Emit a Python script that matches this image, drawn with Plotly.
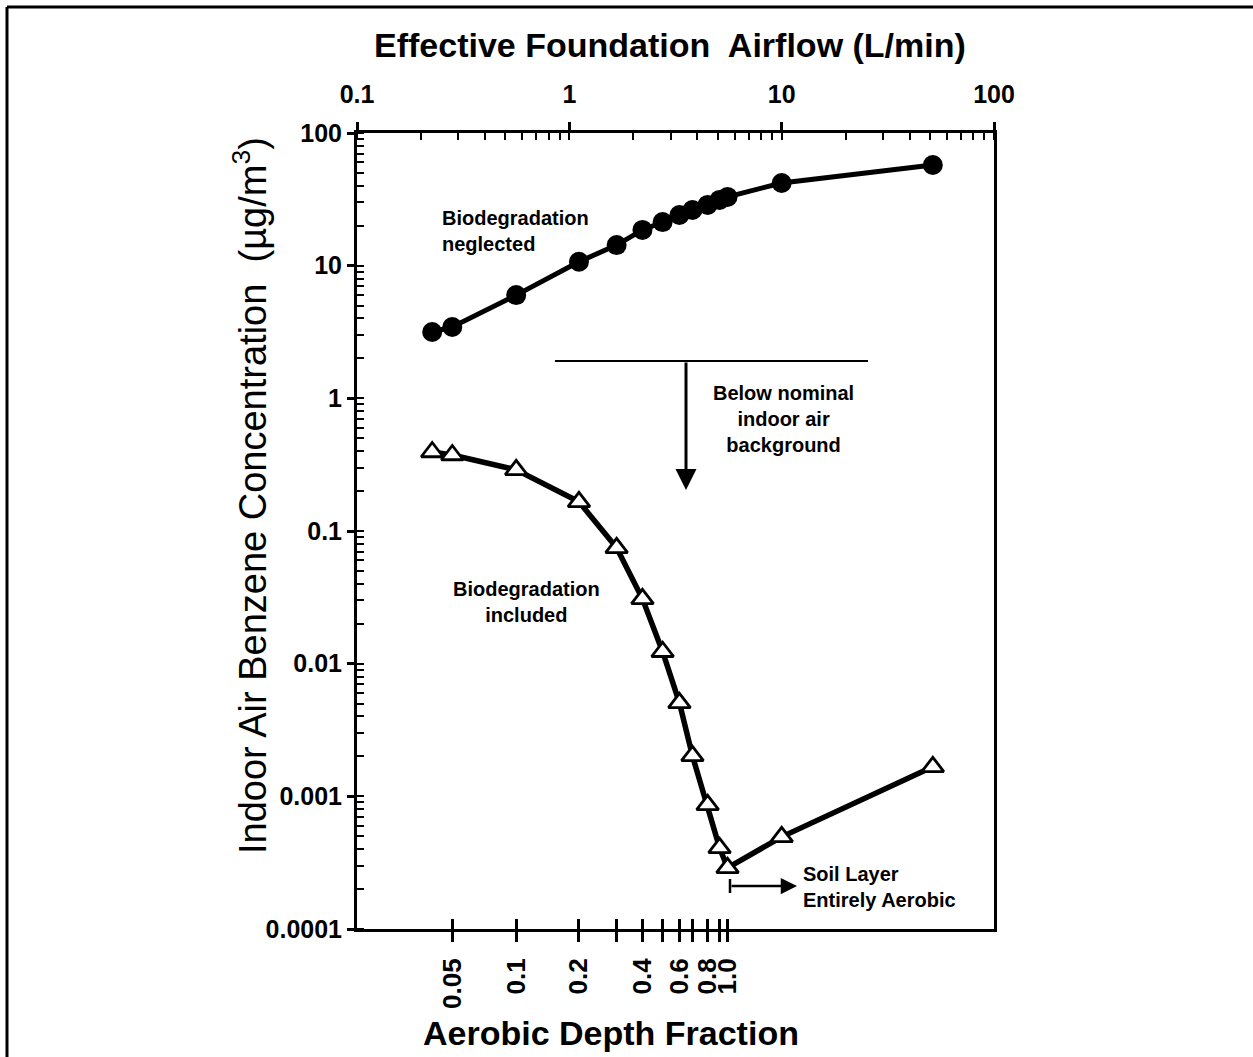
import plotly.graph_objects as go

# ---- data ----
airflow_lpm = [0.226, 0.281, 0.562, 1.11, 1.67, 2.21, 2.75, 3.30, 3.80, 4.48, 5.10, 5.56, 10.0, 51.5]
conc_neglected = [3.16, 3.45, 6.0, 10.7, 14.3, 18.6, 21.3, 24.1, 26.3, 28.7, 31.3, 33.0, 42.0, 57.4]
conc_included = [0.394, 0.374, 0.289, 0.166, 0.0746, 0.0308, 0.0123, 0.00507, 0.00202,
                 0.000863, 0.000409, 0.000289, 0.000495, 0.00167]
depth_fraction_labels = ["0.05", "0.1", "0.2", "", "0.4", "", "0.6", "", "0.8", "", "1.0"]
airflow_tick_vals = [0.1, 1, 10, 100]
airflow_tick_text = ["0.1", "1", "10", "100"]
conc_tick_vals = [1e-4, 1e-3, 1e-2, 1e-1, 1, 10, 100]
conc_tick_text = ["0.0001", "0.001", "0.01", "0.1", "1", "10", "100"]

# depth-fraction ticks sit at the airflow of points 2..12
depth_tick_vals = airflow_lpm[1:12]

W, H = 1253, 1057
L, R, T, B = 357, 994, 133, 929
FONT = "Arial, Liberation Sans, sans-serif"


def px(x):
    return (x - L) / (R - L)


def py(y):
    return (B - y) / (B - T)


fig = go.Figure()

fig.add_trace(go.Scatter(
    x=airflow_lpm, y=conc_neglected, mode="lines+markers",
    line=dict(color="black", width=5),
    marker=dict(symbol="circle", size=20, color="black"),
    showlegend=False, xaxis="x", yaxis="y"))

fig.add_trace(go.Scatter(
    x=airflow_lpm, y=conc_included, mode="lines+markers",
    line=dict(color="black", width=5.5),
    marker=dict(symbol="triangle-up", size=19, color="white",
                line=dict(color="black", width=2.8)),
    showlegend=False, xaxis="x", yaxis="y"))

# invisible helpers so the bottom axes are drawn
for ax in ("x2", "x3"):
    fig.add_trace(go.Scatter(x=airflow_lpm, y=conc_neglected, mode="markers",
                             marker=dict(opacity=0), hoverinfo="skip",
                             showlegend=False, xaxis=ax, yaxis="y"))

tick_font = dict(family=FONT, size=25, color="black", weight="bold")
bot_tick_font = dict(family=FONT, size=26, color="black", weight="bold")

fig.update_layout(
    width=W, height=H,
    margin=dict(l=L, r=W - R, t=T, b=H - B),
    paper_bgcolor="white", plot_bgcolor="white",
    font=dict(family=FONT, color="black"),
    xaxis=dict(type="log", range=[-1, 2], side="top", anchor="y",
               showgrid=False, zeroline=False,
               showline=True, linecolor="black", linewidth=3,
               ticks="outside", ticklen=8, tickwidth=2.5, tickcolor="black",
               tickvals=airflow_tick_vals, ticktext=airflow_tick_text,
               tickfont=tick_font, ticklabelstandoff=9,
               minor=dict(ticks="inside", ticklen=7, tickwidth=2,
                          tickcolor="black", dtick="D1", showgrid=False)),
    xaxis2=dict(type="log", range=[-1, 2], side="bottom", anchor="y",
                overlaying="x", showgrid=False, zeroline=False,
                showline=True, linecolor="black", linewidth=3,
                ticks="outside", ticklen=10, tickwidth=2.5, tickcolor="black",
                tickvals=depth_tick_vals, ticktext=depth_fraction_labels,
                tickangle=-90, tickfont=bot_tick_font, ticklabelstandoff=6),
    xaxis3=dict(type="log", range=[-1, 2], side="bottom", anchor="y",
                overlaying="x", showgrid=False, zeroline=False,
                showline=False, showticklabels=False,
                ticks="inside", ticklen=10, tickwidth=2.5, tickcolor="black",
                tickvals=depth_tick_vals),
    yaxis=dict(type="log", range=[-4, 2], showgrid=False, zeroline=False,
               showline=True, linecolor="black", linewidth=3, mirror=True,
               ticks="outside", ticklen=7, tickwidth=2.5, tickcolor="black",
               tickvals=conc_tick_vals, ticktext=conc_tick_text,
               tickfont=tick_font,
               minor=dict(ticks="inside", ticklen=7, tickwidth=2,
                          tickcolor="black", dtick="D1", showgrid=False)),
)

ann = []
# axis titles
ann.append(dict(text="Effective Foundation  Airflow (L/min)", x=px(670), y=py(45),
                xref="paper", yref="paper", xanchor="center", yanchor="middle",
                showarrow=False, font=dict(family=FONT, size=34, weight="bold")))
ann.append(dict(text="Aerobic Depth Fraction", x=px(611), y=py(1033),
                xref="paper", yref="paper", xanchor="center", yanchor="middle",
                showarrow=False, font=dict(family=FONT, size=34, weight="bold")))
ann.append(dict(text="Indoor Air Benzene Concentration  (µg/m<sup>3</sup>)",
                x=px(250), y=py(496), xref="paper", yref="paper",
                xanchor="center", yanchor="middle",
                showarrow=False, textangle=-90,
                font=dict(family=FONT, size=38)))

lab_font = dict(family=FONT, size=20, weight="bold")
ann.append(dict(text="Biodegradation<br>neglected", x=px(440), y=py(231),
                xref="paper", yref="paper", xanchor="left", yanchor="middle",
                align="left", showarrow=False, font=lab_font))
ann.append(dict(text="Below nominal<br>indoor air<br>background", x=px(783), y=py(419),
                xref="paper", yref="paper", xanchor="center", yanchor="middle",
                align="center", showarrow=False, font=lab_font))
ann.append(dict(text="Biodegradation<br>included", x=px(526), y=py(602),
                xref="paper", yref="paper", xanchor="center", yanchor="middle",
                align="center", showarrow=False, font=lab_font))
ann.append(dict(text="Soil Layer<br>Entirely Aerobic", x=px(801), y=py(887),
                xref="paper", yref="paper", xanchor="left", yanchor="middle",
                align="left", showarrow=False, font=lab_font))

# arrows
ann.append(dict(text="", x=px(686), y=py(490), xref="paper", yref="paper",
                ax=0, ay=-129, axref="pixel", ayref="pixel",
                showarrow=True, arrowhead=2, arrowsize=1.4, arrowwidth=3,
                arrowcolor="black"))
ann.append(dict(text="", x=px(797), y=py(886), xref="paper", yref="paper",
                ax=-67, ay=0, showarrow=True, arrowhead=2, arrowsize=1.3,
                arrowwidth=2.5, arrowcolor="black"))

fig.update_layout(annotations=ann)

shapes = [
    # background line
    dict(type="line", xref="paper", yref="paper", x0=px(555), x1=px(868),
         y0=py(361), y1=py(361), line=dict(color="black", width=2)),
    # bar at start of the aerobic arrow
    dict(type="line", xref="paper", yref="paper", x0=px(730), x1=px(730),
         y0=py(879), y1=py(893), line=dict(color="black", width=2.5)),
    # outer frame (top and left)
    dict(type="line", xref="paper", yref="paper", x0=px(7), x1=px(1253),
         y0=py(7), y1=py(7), line=dict(color="black", width=3)),
    dict(type="line", xref="paper", yref="paper", x0=px(7), x1=px(7),
         y0=py(7), y1=py(1057), line=dict(color="black", width=3)),
]
fig.update_layout(shapes=shapes)

fig.write_html("out.html", config={"displayModeBar": False},
               post_script="document.body.style.margin='0px';")
